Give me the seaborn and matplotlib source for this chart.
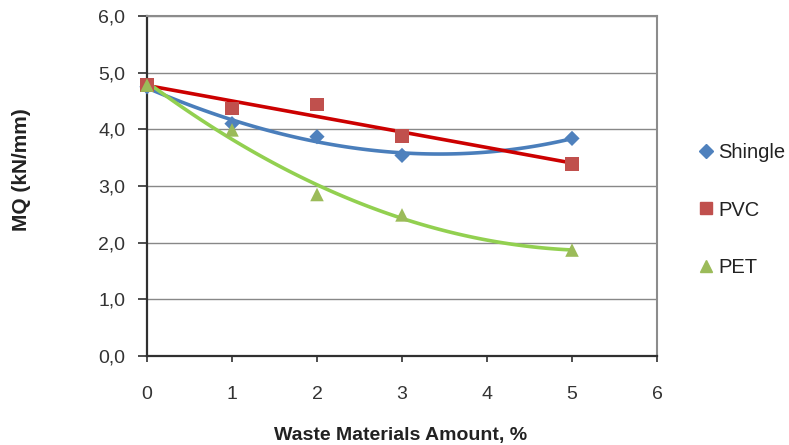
import matplotlib
matplotlib.use("Agg")
import matplotlib.pyplot as plt
from matplotlib.lines import Line2D
from matplotlib.ticker import FuncFormatter
import seaborn as sns
import pandas as pd

x_vals = [0, 1, 2, 3, 5]
shingle = [4.75, 4.10, 3.87, 3.54, 3.84]
pvc = [4.78, 4.37, 4.44, 3.88, 3.39]
pet = [4.78, 3.99, 2.85, 2.49, 1.87]

series_names = ["Shingle", "PVC", "PET"]
series_values = [shingle, pvc, pet]
marker_colors = ["#4F81BD", "#C0504D", "#9BBB59"]
line_colors = ["#4A7EBB", "#CC0000", "#92D050"]
markers = ["D", "s", "^"]
marker_sizes = [60, 95, 95]
fit_orders = [3, 1, 2]

sns.set_style("white")
plt.rcParams["font.family"] = ["Liberation Sans", "DejaVu Sans"]

fig = plt.figure(figsize=(7.89, 4.45), dpi=100)
ax = fig.add_axes([147 / 789, 1 - 356 / 445, 510 / 789, 340 / 445])

for name, vals, mc, lc, mk, ms, order in zip(series_names, series_values, marker_colors,
                                              line_colors, markers, marker_sizes, fit_orders):
    df = pd.DataFrame({"x": x_vals, "y": vals})
    sns.regplot(data=df, x="x", y="y", order=order, ci=None, scatter=False, truncate=True,
                line_kws={"color": lc, "lw": 2.6, "zorder": 3}, ax=ax)
    sns.scatterplot(data=df, x="x", y="y", marker=mk, s=ms, color=mc, edgecolor="none",
                    zorder=4, clip_on=False, ax=ax)

ax.set_xlim(0, 6)
ax.set_ylim(0, 6)
ax.set_xticks(range(0, 7))
ax.set_yticks(range(0, 7))
ax.yaxis.set_major_formatter(FuncFormatter(lambda v, p: f"{v:.1f}".replace(".", ",")))
ax.grid(axis="y", color="#888888", lw=1.0)
ax.set_axisbelow(True)
for s in ["top", "right"]:
    ax.spines[s].set_color("#8C8C8C")
    ax.spines[s].set_linewidth(1.5)
for s in ["left", "bottom"]:
    ax.spines[s].set_color("#303030")
    ax.spines[s].set_linewidth(1.6)
ax.tick_params(axis="both", direction="out", width=1.2, color="#303030",
               labelsize=14, labelcolor="#333333", left=True, bottom=True)
ax.tick_params(axis="x", pad=17, length=4.5)
ax.tick_params(axis="y", pad=9, length=6.5)
ax.set_xlabel("Waste Materials Amount, %", fontsize=14, fontweight="bold", color="#222222")
ax.set_ylabel("MQ (kN/mm)", fontsize=15, fontweight="bold", color="#222222")
ax.xaxis.set_label_coords((401 - 147) / 510, (356 - 427) / 340)
ax.yaxis.set_label_coords((31 - 147) / 510, (356 - 170) / 340)

handles = [Line2D([], [], marker=mk, color=mc, ls="none", markersize=7.5 if mk == "D" else 8.5)
           for mk, mc in zip(markers, marker_colors)]
leg = fig.legend(handles, series_names, loc="center left", bbox_to_anchor=(680 / 789, 1 - 210 / 445),
                 frameon=False, fontsize=14.5, handlelength=0.8, handletextpad=0.2,
                 labelspacing=1.9)
for t in leg.get_texts():
    t.set_color("#222222")

fig.savefig("out.png", dpi=100)
